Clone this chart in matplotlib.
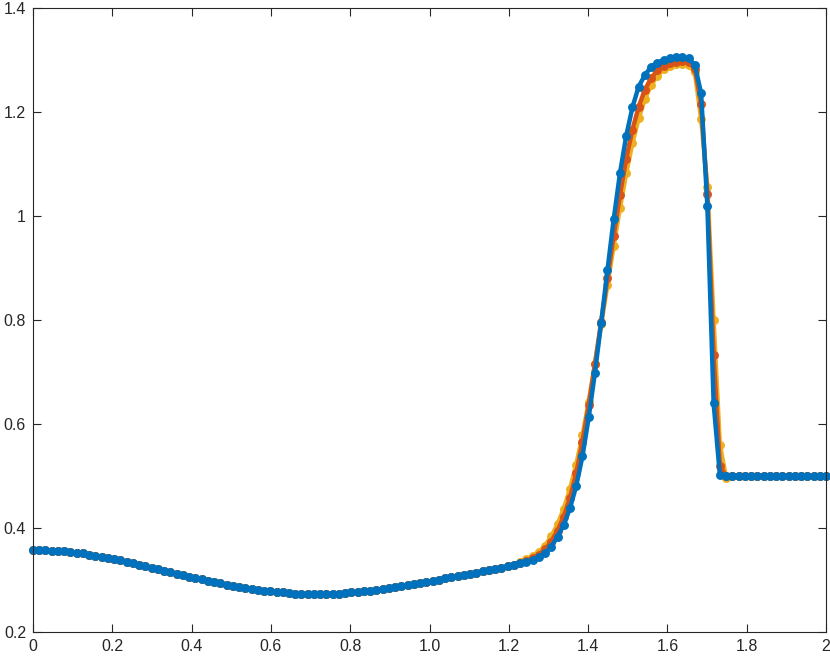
import numpy as np
import matplotlib
matplotlib.use("Agg")
import matplotlib.pyplot as plt

plt.rcParams['font.family'] = ['Liberation Sans', 'DejaVu Sans']

# grid: 128 points on [0, 2]
x = np.linspace(0, 2, 128)

# smooth left part (k = 0..77), same for all three runs
rho_left = [0.357, 0.357, 0.357, 0.356, 0.356, 0.355, 0.354, 0.352, 0.351, 0.349,
            0.347, 0.345, 0.343, 0.341, 0.338, 0.335, 0.332, 0.329, 0.326, 0.323,
            0.321, 0.318, 0.315, 0.312, 0.309, 0.306, 0.303, 0.301, 0.298, 0.296,
            0.294, 0.291, 0.289, 0.287, 0.285, 0.283, 0.281, 0.279, 0.278, 0.277,
            0.276, 0.275, 0.274, 0.273, 0.273, 0.273, 0.273, 0.273, 0.274, 0.274,
            0.275, 0.276, 0.277, 0.278, 0.279, 0.280, 0.282, 0.284, 0.286, 0.288,
            0.290, 0.292, 0.294, 0.296, 0.298, 0.300, 0.303, 0.305, 0.307, 0.310,
            0.312, 0.314, 0.317, 0.319, 0.321, 0.324, 0.326, 0.329]

# peak / shock region (k = 78..111)
peak_yellow = [0.335, 0.340, 0.346, 0.354, 0.366, 0.384, 0.407, 0.437, 0.475, 0.522,
               0.578, 0.643, 0.716, 0.792, 0.868, 0.943, 1.015, 1.082, 1.140, 1.188,
               1.225, 1.252, 1.270, 1.282, 1.289, 1.292, 1.293, 1.291, 1.276, 1.187,
               1.055, 0.800, 0.560, 0.497]
peak_orange = [0.333, 0.337, 0.342, 0.349, 0.359, 0.374, 0.395, 0.422, 0.458, 0.505,
               0.566, 0.637, 0.715, 0.797, 0.880, 0.962, 1.040, 1.110, 1.166, 1.210,
               1.243, 1.265, 1.280, 1.289, 1.294, 1.297, 1.298, 1.296, 1.283, 1.215,
               1.042, 0.733, 0.520, 0.500]
peak_blue = [0.332, 0.335, 0.339, 0.344, 0.351, 0.364, 0.383, 0.406, 0.438, 0.481,
             0.538, 0.613, 0.699, 0.795, 0.896, 0.994, 1.082, 1.154, 1.209, 1.249,
             1.271, 1.287, 1.295, 1.300, 1.304, 1.305, 1.305, 1.303, 1.290, 1.236,
             1.019, 0.640, 0.502, 0.500]

# constant right state (k = 112..127)
rho_right = [0.5] * 16

series = [
    (rho_left + peak_yellow + rho_right, '#EDB120'),
    (rho_left + peak_orange + rho_right, '#D95319'),
    (rho_left + peak_blue + rho_right, '#0072BD'),
]

fig = plt.figure(figsize=(8.3, 6.61), dpi=100)
ax = fig.add_axes([33/830, 1 - 632/661, (826 - 33)/830, (632 - 8)/661])

for y, c in series:
    ax.plot(x, y, '-o', color=c, linewidth=3.2, markersize=5.4, clip_on=False)

ax.set_xlim(0, 2)
ax.set_ylim(0.2, 1.4)
xt = [0, 0.2, 0.4, 0.6, 0.8, 1.0, 1.2, 1.4, 1.6, 1.8, 2]
ax.set_xticks(xt)
ax.set_xticklabels(['0', '0.2', '0.4', '0.6', '0.8', '1.0', '1.2', '1.4', '1.6', '1.8', '2'])
yt = [0.2, 0.4, 0.6, 0.8, 1.0, 1.2, 1.4]
ax.set_yticks(yt)
ax.set_yticklabels(['0.2', '0.4', '0.6', '0.8', '1', '1.2', '1.4'])

ax.tick_params(direction='in', length=6, width=0.8, colors='#262626',
               labelsize=11.5, top=True, right=True, pad=5)
for s in ax.spines.values():
    s.set_color('#262626')
    s.set_linewidth(0.8)

fig.savefig('out.png', dpi=100)
